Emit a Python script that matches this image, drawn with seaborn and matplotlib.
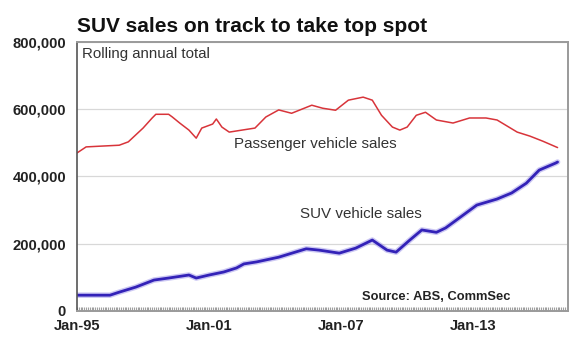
import pandas as pd
import matplotlib
matplotlib.use('Agg')
import matplotlib.pyplot as plt
import matplotlib.dates as mdates
from matplotlib.ticker import FuncFormatter
import seaborn as sns

# Rolling annual totals, values in thousands
passenger_dates = ['1995-01', '1995-06', '1996-01', '1996-12', '1997-05', '1998-01',
                   '1998-06', '1998-08', '1999-03', '1999-05', '1999-09', '2000-02',
                   '2000-06', '2000-09', '2001-03', '2001-05', '2001-08', '2001-12',
                   '2002-07', '2003-02', '2003-08', '2004-03', '2004-10', '2005-09',
                   '2006-03', '2006-10', '2007-05', '2008-01', '2008-06', '2008-11',
                   '2009-05', '2009-09', '2010-01', '2010-06', '2010-11', '2011-05',
                   '2012-02', '2012-11', '2013-08', '2014-02', '2015-01', '2015-08',
                   '2016-03', '2016-11']
passenger_sales = [470, 488, 490, 493, 503, 544,
                   574, 585, 585, 577, 559, 538,
                   514, 544, 556, 571, 547, 532,
                   538, 544, 577, 598, 588, 612,
                   603, 597, 627, 636, 627, 582,
                   547, 538, 547, 582, 591, 568,
                   559, 574, 574, 568, 532, 520,
                   505, 486]

suv_dates = ['1995-01', '1996-07', '1996-12', '1997-09', '1998-07', '1999-03',
             '2000-02', '2000-06', '2001-01', '2001-09', '2002-04', '2002-08',
             '2003-03', '2004-03', '2005-06', '2006-01', '2006-12', '2007-09',
             '2008-06', '2009-02', '2009-07', '2010-02', '2010-09', '2011-05',
             '2011-10', '2012-06', '2013-03', '2014-02', '2014-10', '2015-06',
             '2016-01', '2016-10', '2016-11']
suv_sales = [47, 47, 56, 71, 92, 98,
             107, 98, 107, 116, 128, 140,
             146, 160, 185, 181, 172, 187,
             211, 181, 175, 209, 241, 234,
             247, 279, 315, 333, 351, 380,
             419, 440, 443]

title = 'SUV sales on track to take top spot'
x_ticks = ['1995-01', '2001-01', '2007-01', '2013-01']
y_ticks = [0, 200000, 400000, 600000, 800000]

df_pass = pd.DataFrame({'date': pd.to_datetime(passenger_dates, format='%Y-%m'),
                        'sales': [v * 1000 for v in passenger_sales]})
df_suv = pd.DataFrame({'date': pd.to_datetime(suv_dates, format='%Y-%m'),
                       'sales': [v * 1000 for v in suv_sales]})

sns.set_style('white')
plt.rcParams['font.family'] = ['Liberation Sans', 'DejaVu Sans']

fig = plt.figure(figsize=(5.8, 3.52), dpi=100)
ax = fig.add_axes([0.1328, 0.1165, 0.979 - 0.1328, 0.8807 - 0.1165])

# soft halo under the SUV line
sns.lineplot(data=df_suv, x='date', y='sales', ax=ax, color='#8f86e6',
             linewidth=4.0, alpha=0.45)
sns.lineplot(data=df_suv, x='date', y='sales', ax=ax, color='#3322b8',
             linewidth=2.0)
sns.lineplot(data=df_pass, x='date', y='sales', ax=ax, color='#d8343a',
             linewidth=1.1)

ax.set_ylim(0, 800000)
ax.set_xlim(pd.Timestamp('1995-01-01'), pd.Timestamp('2017-04-20'))
ax.set_yticks(y_ticks)
ax.yaxis.set_major_formatter(FuncFormatter(lambda v, p: f'{int(v):,}'))
ax.grid(axis='y', color='#d8d8d8', linewidth=0.9)
ax.set_axisbelow(True)

ax.set_xticks(pd.to_datetime(x_ticks, format='%Y-%m'))
ax.xaxis.set_major_formatter(mdates.DateFormatter('Jan-%y'))
ax.xaxis.set_minor_locator(mdates.MonthLocator())
ax.tick_params(axis='x', which='minor', direction='in', length=3, width=0.8,
               color='#a0a0a0', bottom=True)
ax.tick_params(axis='x', which='major', direction='in', length=3, width=0.8,
               color='#a0a0a0', bottom=True, pad=6)
ax.tick_params(axis='y', length=0, pad=8)
for lab in ax.get_xticklabels() + ax.get_yticklabels():
    lab.set_fontsize(10.6)
    lab.set_fontweight('bold')
    lab.set_color('#222222')

ax.set_xlabel('')
ax.set_ylabel('')
for side in ['top', 'right', 'bottom']:
    ax.spines[side].set_color('#9a9a9a')
    ax.spines[side].set_linewidth(1.4)
ax.spines['left'].set_color('#555555')
ax.spines['left'].set_linewidth(1.2)

fig.text(0.1328, 0.897, title, fontsize=15, fontweight='bold', color='#111111',
         ha='left', va='bottom')
ax.text(0.011, 0.955, 'Rolling annual total', transform=ax.transAxes,
        fontsize=10.8, color='#333333', ha='left', va='center')
ax.text(0.32, 0.622, 'Passenger vehicle sales', transform=ax.transAxes,
        fontsize=10.9, color='#333333', ha='left', va='center')
ax.text(0.455, 0.36, 'SUV vehicle sales', transform=ax.transAxes,
        fontsize=10.9, color='#333333', ha='left', va='center')
ax.text(0.58, 0.052, 'Source: ABS, CommSec', transform=ax.transAxes,
        fontsize=9.3, fontweight='bold', color='#222222', ha='left', va='center')

fig.savefig('out.png', dpi=100)
plt.close(fig)
